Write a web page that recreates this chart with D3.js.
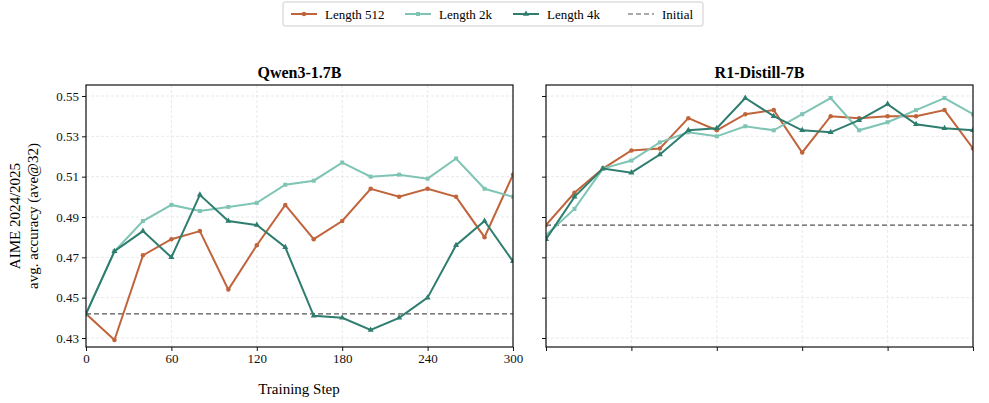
<!DOCTYPE html>
<html>
<head>
<meta charset="utf-8">
<script src="https://d3js.org/d3.v7.min.js"></script>
<style>
  body { margin: 0; background: #fff; }
  text { font-family: "Liberation Serif", "DejaVu Serif", serif; }
</style>
</head>
<body>
<div id="chart"></div>
<script>
// data
var steps = [0, 20, 40, 60, 80, 100, 120, 140, 160, 180, 200, 220, 240, 260, 280, 300];
var xTicks = [0, 60, 120, 180, 240, 300];
var yTicks = [0.43, 0.45, 0.47, 0.49, 0.51, 0.53, 0.55];

var qwen512 = [0.442, 0.429, 0.471, 0.479, 0.483, 0.454, 0.476, 0.496, 0.479, 0.488, 0.504, 0.500, 0.504, 0.500, 0.480, 0.511];
var qwen2k  = [0.442, 0.473, 0.488, 0.496, 0.493, 0.495, 0.497, 0.506, 0.508, 0.517, 0.510, 0.511, 0.509, 0.519, 0.504, 0.500];
var qwen4k  = [0.442, 0.473, 0.483, 0.470, 0.501, 0.488, 0.486, 0.475, 0.441, 0.440, 0.434, 0.440, 0.450, 0.476, 0.488, 0.468];
var qwenInit = 0.442;

var r1512 = [0.486, 0.502, 0.514, 0.523, 0.524, 0.539, 0.533, 0.541, 0.543, 0.522, 0.540, 0.539, 0.540, 0.540, 0.543, 0.524];
var r12k  = [0.481, 0.494, 0.514, 0.518, 0.527, 0.532, 0.530, 0.535, 0.533, 0.541, 0.549, 0.533, 0.537, 0.543, 0.549, 0.541];
var r14k  = [0.479, 0.500, 0.514, 0.512, 0.521, 0.533, 0.534, 0.549, 0.540, 0.533, 0.532, 0.538, 0.546, 0.536, 0.534, 0.533];
var r1Init = 0.486;

var seriesNames = ["Length 512", "Length 2k", "Length 4k"];
var colors = ["#c0643c", "#7fc4b4", "#2e7d6e"];
var symbols = [d3.symbolCircle, d3.symbolSquare, d3.symbolTriangle];

var panels = [
  { title: "Qwen3-1.7B", left: 86, series: [qwen512, qwen2k, qwen4k], init: qwenInit, labels: true },
  { title: "R1-Distill-7B", left: 546, series: [r1512, r12k, r14k], init: r1Init, labels: false }
];

var W = 989, H = 403, plotTop = 85, plotBottom = 347, pw = 427;

var svg = d3.select("#chart").append("svg").attr("width", W).attr("height", H);

// 0.55 sits at 96px, 0.43 at 338px
var y = d3.scaleLinear().domain([0.43, 0.55]).range([338, 96]);

panels.forEach(function (p) {
  var x = d3.scaleLinear().domain([0, 300]).range([p.left, p.left + pw]);
  var g = svg.append("g");

  // grid
  g.selectAll(".gx").data(xTicks).enter().append("line")
    .attr("x1", d => x(d)).attr("x2", d => x(d)).attr("y1", plotTop).attr("y2", plotBottom)
    .attr("stroke", "#e3e3e3").attr("stroke-dasharray", "3,2").attr("stroke-width", 0.8);
  g.selectAll(".gy").data(yTicks).enter().append("line")
    .attr("x1", p.left).attr("x2", p.left + pw).attr("y1", d => y(d)).attr("y2", d => y(d))
    .attr("stroke", "#e3e3e3").attr("stroke-dasharray", "3,2").attr("stroke-width", 0.8);

  // initial line
  g.append("line").attr("x1", p.left).attr("x2", p.left + pw)
    .attr("y1", y(p.init)).attr("y2", y(p.init))
    .attr("stroke", "#555").attr("stroke-width", 1.2).attr("stroke-dasharray", "5,3");

  var cid = "clip" + p.left;
  svg.append("clipPath").attr("id", cid).append("rect")
    .attr("x", p.left).attr("y", plotTop).attr("width", pw).attr("height", plotBottom - plotTop);

  var line = d3.line().x((d, i) => x(steps[i])).y(d => y(d));
  p.series.forEach(function (s, k) {
    var sg = g.append("g").attr("clip-path", "url(#" + cid + ")");
    sg.append("path").datum(s).attr("d", line).attr("fill", "none")
      .attr("stroke", colors[k]).attr("stroke-width", 2);
    sg.selectAll("path.m").data(s).enter().append("path").attr("class", "m")
      .attr("transform", (d, i) => "translate(" + x(steps[i]) + "," + y(d) + ")")
      .attr("d", d3.symbol().type(symbols[k]).size(16)).attr("fill", colors[k]);
  });

  // axes
  var ax = g.append("g").attr("transform", "translate(0," + plotBottom + ")")
    .call(d3.axisBottom(x).tickValues(xTicks).tickSize(4).tickFormat(p.labels ? d3.format("d") : ""));
  var ay = g.append("g").attr("transform", "translate(" + p.left + ",0)")
    .call(d3.axisLeft(y).tickValues(yTicks).tickSize(4).tickFormat(p.labels ? d3.format(".2f") : ""));
  [ax, ay].forEach(function (a) {
    a.select(".domain").remove();
    a.selectAll("text").style("font-family", "Liberation Serif").style("font-size", "13px").attr("fill", "#111");
    a.selectAll("line").attr("stroke", "#111");
  });
  g.append("rect").attr("x", p.left).attr("y", plotTop).attr("width", pw).attr("height", plotBottom - plotTop)
    .attr("fill", "none").attr("stroke", "#111").attr("stroke-width", 1.2);

  g.append("text").attr("x", p.left + pw / 2).attr("y", 78).attr("text-anchor", "middle")
    .style("font-size", "16px").style("font-weight", "bold").text(p.title);
});

svg.append("text").attr("x", 299).attr("y", 394).attr("text-anchor", "middle")
  .style("font-size", "15px").text("Training Step");
svg.append("text").attr("transform", "translate(20,216) rotate(-90)").attr("text-anchor", "middle")
  .style("font-size", "15px").text("AIME 2024/2025");
svg.append("text").attr("transform", "translate(38,216) rotate(-90)").attr("text-anchor", "middle")
  .style("font-size", "15px").text("avg. accuracy (ave@32)");

// legend
var lg = svg.append("g");
lg.append("rect").attr("x", 283).attr("y", 2).attr("width", 420).attr("height", 24)
  .attr("fill", "#fff").attr("stroke", "#ccc").attr("rx", 2);
var lx = [291, 405, 513, 628];
seriesNames.forEach(function (n, k) {
  lg.append("line").attr("x1", lx[k]).attr("x2", lx[k] + 26).attr("y1", 14).attr("y2", 14)
    .attr("stroke", colors[k]).attr("stroke-width", 2);
  lg.append("path").attr("transform", "translate(" + (lx[k] + 13) + ",14)")
    .attr("d", d3.symbol().type(symbols[k]).size(16)).attr("fill", colors[k]);
  lg.append("text").attr("x", lx[k] + 34).attr("y", 18.5).style("font-size", "13px").text(n);
});
lg.append("line").attr("x1", lx[3]).attr("x2", lx[3] + 26).attr("y1", 14).attr("y2", 14)
  .attr("stroke", "#555").attr("stroke-width", 1.2).attr("stroke-dasharray", "5,3");
lg.append("text").attr("x", lx[3] + 34).attr("y", 18.5).style("font-size", "13px").text("Initial");
</script>
</body>
</html>
